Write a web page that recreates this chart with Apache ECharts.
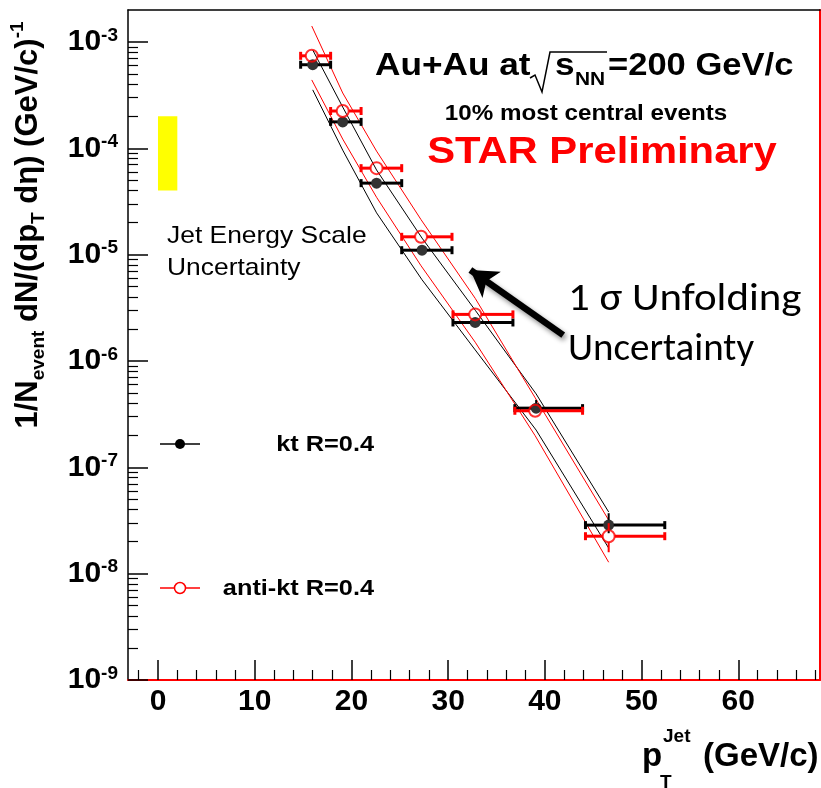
<!DOCTYPE html>
<html><head><meta charset="utf-8">
<script src="https://cdn.jsdelivr.net/npm/echarts@6/dist/echarts.min.js"></script>
<style>html,body{margin:0;padding:0;background:#fff}#c{width:821px;height:788px}</style>
</head><body><div id="c"></div>
<script>
// ---- data ----
const xTickLabels = [0, 10, 20, 30, 40, 50, 60];
const xMinorTicks = [-2, 2, 4, 6, 8, 12, 14, 16, 18, 22, 24, 26, 28, 32, 34, 36, 38, 42, 44, 46, 48, 52, 54, 56, 58, 62, 64, 66, 68];
const yTickExponents = [-9, -8, -7, -6, -5, -4, -3];

const binLow  = [14.75, 17.85, 21.0, 25.2, 30.5, 36.9, 44.2];
const binHigh = [17.85, 21.0, 25.2, 30.4, 36.7, 43.9, 52.4];

const ktX = [16.0, 19.1, 22.6, 27.3, 32.8, 39.1, 46.6];
const ktY = [6.1e-4, 1.77e-4, 4.7e-5, 1.1e-5, 2.3e-6, 3.6e-7, 2.86e-8];
const ktYErrLow  = [5.9e-4, 1.70e-4, 4.5e-5, 1.05e-5, 2.2e-6, 3.3e-7, 2.4e-8];
const ktYErrHigh = [6.3e-4, 1.84e-4, 4.9e-5, 1.15e-5, 2.4e-6, 4.3e-7, 3.7e-8];
const ktBandUp = [8.4e-4, 2.44e-4, 6.25e-5, 1.43e-5, 3.0e-6, 4.9e-7, 3.8e-8];
const ktBandLo = [3.54e-4, 9.6e-5, 2.47e-5, 5.8e-6, 1.27e-6, 2.24e-7, 1.74e-8];

const aktX = [15.9, 19.1, 22.6, 27.2, 32.8, 39.0, 46.6];
const aktY = [7.4e-4, 2.24e-4, 6.5e-5, 1.47e-5, 2.74e-6, 3.4e-7, 2.25e-8];
const aktYErrLow  = [7.1e-4, 2.15e-4, 6.2e-5, 1.4e-5, 2.6e-6, 3.1e-7, 1.59e-8];
const aktYErrHigh = [7.7e-4, 2.33e-4, 6.8e-5, 1.54e-5, 2.88e-6, 3.7e-7, 2.98e-8];
const aktBandUp = [1.41e-3, 3.31e-4, 9.4e-5, 2.13e-5, 3.88e-6, 4.5e-7, 3.19e-8];
const aktBandLo = [4.39e-4, 1.22e-4, 3.46e-5, 7.85e-6, 1.5e-6, 1.98e-7, 1.28e-8];

const jesBoxX = [0, 2];
const jesBoxY = [4e-5, 2e-4];
const arrowFrom = [41.9, 1.75e-6];
const arrowTo = [32.3, 7.16e-6];

// ---- layout ----
const XMIN = -3.1, XMAX = 68.45, YMIN = -9, YMAX = -2.70;
const FONT = "'Liberation Sans', Arial, Helvetica, sans-serif";
const CAL = "Carlito, Lato, 'Open Sans', sans-serif";
const L = Math.log10;

const yMinor = [];
for (let d = -9; d <= -3; d++) for (let k = 2; k <= 9; k++) { const v = d + L(k); if (v < YMAX) yMinor.push(v); }

function bandLine(xs, vals, color) {
  return { type: 'line', data: xs.map((x, i) => [x, L(vals[i])]), showSymbol: false, symbol: 'none',
    lineStyle: { color: color, width: 1 }, z: 2, silent: true };
}
function errSeries(color, xs, ys, lo, hi, r, z) {
  const data = xs.map((x, i) => [x, L(ys[i]), binLow[i], binHigh[i], L(lo[i]), L(hi[i])]);
  return { type: 'custom', data, z, silent: true, encode: { x: 0, y: 1 },
    renderItem(params, api) {
      const c = api.coord([api.value(0), api.value(1)]);
      const l = api.coord([api.value(2), api.value(1)]);
      const rr = api.coord([api.value(3), api.value(1)]);
      const b = api.coord([api.value(0), api.value(4)]);
      const t = api.coord([api.value(0), api.value(5)]);
      const st = { stroke: color, lineWidth: 3 };
      const ch = [
        { type: 'line', shape: { x1: l[0], y1: c[1], x2: c[0] - r, y2: c[1] }, style: st },
        { type: 'line', shape: { x1: c[0] + r, y1: c[1], x2: rr[0], y2: c[1] }, style: st },
        { type: 'line', shape: { x1: l[0], y1: c[1] - 4, x2: l[0], y2: c[1] + 4 }, style: { stroke: color, lineWidth: 3 } },
        { type: 'line', shape: { x1: rr[0], y1: c[1] - 4, x2: rr[0], y2: c[1] + 4 }, style: { stroke: color, lineWidth: 3 } }
      ];
      if (b[1] > c[1] + r) ch.push({ type: 'line', shape: { x1: c[0], y1: c[1] + r, x2: c[0], y2: b[1] }, style: { stroke: color, lineWidth: 2 } });
      if (t[1] < c[1] - r) ch.push({ type: 'line', shape: { x1: c[0], y1: c[1] - r, x2: c[0], y2: t[1] }, style: { stroke: color, lineWidth: 2 } });
      return { type: 'group', children: ch };
    } };
}
function txt(x, y, text, font, opts) {
  return Object.assign({ type: 'text', x, y, silent: true, z: 20,
    style: Object.assign({ text, font, fill: '#000', verticalAlign: 'middle' }, (opts && opts.style) || {}) },
    (opts && opts.el) || {});
}

const chart = echarts.init(document.getElementById('c'), null, { renderer: 'canvas' });
const option = {
  animation: false,
  backgroundColor: '#fff',
  grid: { left: 128, right: 1, top: 10, bottom: 108, containLabel: false },
  xAxis: [
    { type: 'value', min: XMIN, max: XMAX, position: 'bottom',
      axisLine: { show: true, onZero: false, lineStyle: { color: '#ff0000', width: 2 } },
      axisTick: { show: true, inside: true, length: 20, customValues: xTickLabels, lineStyle: { color: '#000', width: 1.5 } },
      axisLabel: { show: true, customValues: xTickLabels, fontSize: 30, fontWeight: 'bold', fontFamily: FONT, color: '#000', margin: 7 },
      splitLine: { show: false } },
    { type: 'value', min: XMIN, max: XMAX, position: 'bottom',
      axisLine: { show: false, onZero: false },
      axisTick: { show: true, inside: true, length: 10, customValues: xMinorTicks, lineStyle: { color: '#000', width: 1.2 } },
      axisLabel: { show: false }, splitLine: { show: false } },
    { type: 'value', min: XMIN, max: XMAX, position: 'top',
      axisLine: { show: true, onZero: false, lineStyle: { color: '#000', width: 1.5 } },
      axisTick: { show: false }, axisLabel: { show: false }, splitLine: { show: false } }
  ],
  yAxis: [
    { type: 'value', min: YMIN, max: YMAX, position: 'left',
      axisLine: { show: true, onZero: false, lineStyle: { color: '#000', width: 1.5 } },
      axisTick: { show: true, inside: true, length: 20, customValues: yTickExponents, lineStyle: { color: '#000', width: 1.5 } },
      axisLabel: { show: true, customValues: yTickExponents, margin: 10, color: '#000',
        formatter: v => '{b|10}{s|' + Math.round(v) + '}',
        rich: { b: { fontSize: 30, fontWeight: 'bold', fontFamily: FONT, color: '#000', lineHeight: 32 },
                s: { fontSize: 19, fontWeight: 'bold', fontFamily: FONT, color: '#000', verticalAlign: 'top', lineHeight: 19 } } },
      splitLine: { show: false } },
    { type: 'value', min: YMIN, max: YMAX, position: 'left',
      axisLine: { show: false, onZero: false },
      axisTick: { show: true, inside: true, length: 10, customValues: yMinor, lineStyle: { color: '#000', width: 1.2 } },
      axisLabel: { show: false }, splitLine: { show: false } },
    { type: 'value', min: YMIN, max: YMAX, position: 'right',
      axisLine: { show: true, onZero: false, lineStyle: { color: '#ff0000', width: 2 } },
      axisTick: { show: false }, axisLabel: { show: false }, splitLine: { show: false } }
  ],
  series: [
    { type: 'custom', silent: true, z: 1, data: [[jesBoxX[0], jesBoxX[1], L(jesBoxY[0]), L(jesBoxY[1])]],
      encode: { x: [0, 1], y: [2, 3] },
      renderItem(p, api) {
        const a = api.coord([api.value(0), api.value(3)]);
        const b = api.coord([api.value(1), api.value(2)]);
        return { type: 'rect', shape: { x: a[0], y: a[1], width: b[0] - a[0], height: b[1] - a[1] }, style: { fill: '#ffff00' } };
      },
      markLine: { silent: true, symbol: ['none', 'arrow'], symbolSize: [24, 26], label: { show: false },
        lineStyle: { color: '#000', width: 6.5, type: 'solid', shadowBlur: 5, shadowColor: 'rgba(0,0,0,0.45)', shadowOffsetX: 2, shadowOffsetY: 3 },
        emphasis: { disabled: true },
        data: [[{ coord: [arrowFrom[0], L(arrowFrom[1])] }, { coord: [arrowTo[0], L(arrowTo[1])] }]] } },
    bandLine(ktX, ktBandUp, '#000'),
    bandLine(ktX, ktBandLo, '#000'),
    bandLine(aktX, aktBandUp, '#ff0000'),
    bandLine(aktX, aktBandLo, '#ff0000'),
    errSeries('#000', ktX, ktY, ktYErrLow, ktYErrHigh, 5, 5),
    { type: 'scatter', data: ktX.map((x, i) => [x, L(ktY[i])]), symbol: 'circle', symbolSize: 11,
      itemStyle: { color: '#000' }, z: 6, silent: true },
    errSeries('#ff0000', aktX, aktY, aktYErrLow, aktYErrHigh, 6, 7),
    { type: 'scatter', data: aktX.map((x, i) => [x, L(aktY[i])]), symbol: 'circle', symbolSize: 12,
      itemStyle: { color: 'rgba(255,255,255,0)', borderColor: '#ff0000', borderWidth: 2 }, z: 8, silent: true }
  ],
  graphic: [
    // y-axis title
    { type: 'text', x: 28, y: 225, rotation: Math.PI / 2, silent: true,
      style: { text: '{m|1/N}{sb|event}{m| dN/(dp}{sb|T}{m| d\u03b7) (GeV/c)}{sp|-1}', align: 'center', verticalAlign: 'middle',
        rich: { m: { fontSize: 31, fontWeight: 'bold', fontFamily: FONT, fill: '#000', lineHeight: 40 },
                sb: { fontSize: 19, fontWeight: 'bold', fontFamily: FONT, fill: '#000', verticalAlign: 'bottom', lineHeight: 19 },
                sp: { fontSize: 19, fontWeight: 'bold', fontFamily: FONT, fill: '#000', verticalAlign: 'top', lineHeight: 19 } } } },
    // x-axis title
    txt(642, 757, 'p', 'bold 33px ' + FONT),
    txt(663, 737, 'Jet', 'bold 19px ' + FONT),
    txt(660, 783, 'T', 'bold 19px ' + FONT),
    txt(703, 757, '(GeV/c)', 'bold 33px ' + FONT),
    // header
    txt(375, 66, 'Au+Au at', 'bold 32px ' + FONT, { el: { scaleX: 1.1 } }),
    { type: 'polyline', silent: true, shape: { points: [[530, 78], [535, 75], [542, 92], [550, 52], [607, 52]] }, style: { stroke: '#000', lineWidth: 1.5, fill: null } },
    txt(555, 66, 's', 'bold 32px ' + FONT, { el: { scaleX: 1.1 } }),
    txt(575, 80, 'NN', 'bold 19px ' + FONT, { el: { scaleX: 1.1 } }),
    txt(608, 66, '=200 GeV/c', 'bold 32px ' + FONT, { el: { scaleX: 1.08 } }),
    txt(586, 114, '10% most central events', 'bold 22px ' + FONT, { style: { align: 'center' }, el: { scaleX: 1.1 } }),
    txt(602, 153, 'STAR Preliminary', 'bold 36px ' + FONT, { style: { align: 'center', fill: '#ff0000' }, el: { scaleX: 1.16 } }),
    // JES text
    txt(167, 252, 'Jet Energy Scale\nUncertainty', '24px ' + FONT, { style: { lineHeight: 32 }, el: { scaleX: 1.1 } }),
    // unfolding annotation
    txt(568, 300, '1 \u03c3 Unfolding', '39px ' + CAL, { el: { scaleX: 1.1 } }),
    txt(568, 350, 'Uncertainty', '39px ' + CAL, { el: { scaleX: 1.0 } }),
    // legend
    { type: 'line', silent: true, shape: { x1: 160, y1: 444, x2: 200, y2: 444 }, style: { stroke: '#000', lineWidth: 1.5 } },
    { type: 'circle', silent: true, shape: { cx: 180, cy: 444, r: 5 }, style: { fill: '#000' } },
    txt(374, 445, 'kt R=0.4', 'bold 22px ' + FONT, { style: { align: 'right' }, el: { scaleX: 1.15 } }),
    { type: 'line', silent: true, shape: { x1: 160, y1: 588, x2: 200, y2: 588 }, style: { stroke: '#ff0000', lineWidth: 1.5 } },
    { type: 'circle', silent: true, shape: { cx: 180, cy: 588, r: 5.5 }, style: { fill: '#fff', stroke: '#ff0000', lineWidth: 1.5 } },
    txt(374, 589, 'anti-kt R=0.4', 'bold 22px ' + FONT, { style: { align: 'right' }, el: { scaleX: 1.15 } })
  ]
};
chart.setOption(option);
</script></body></html>
